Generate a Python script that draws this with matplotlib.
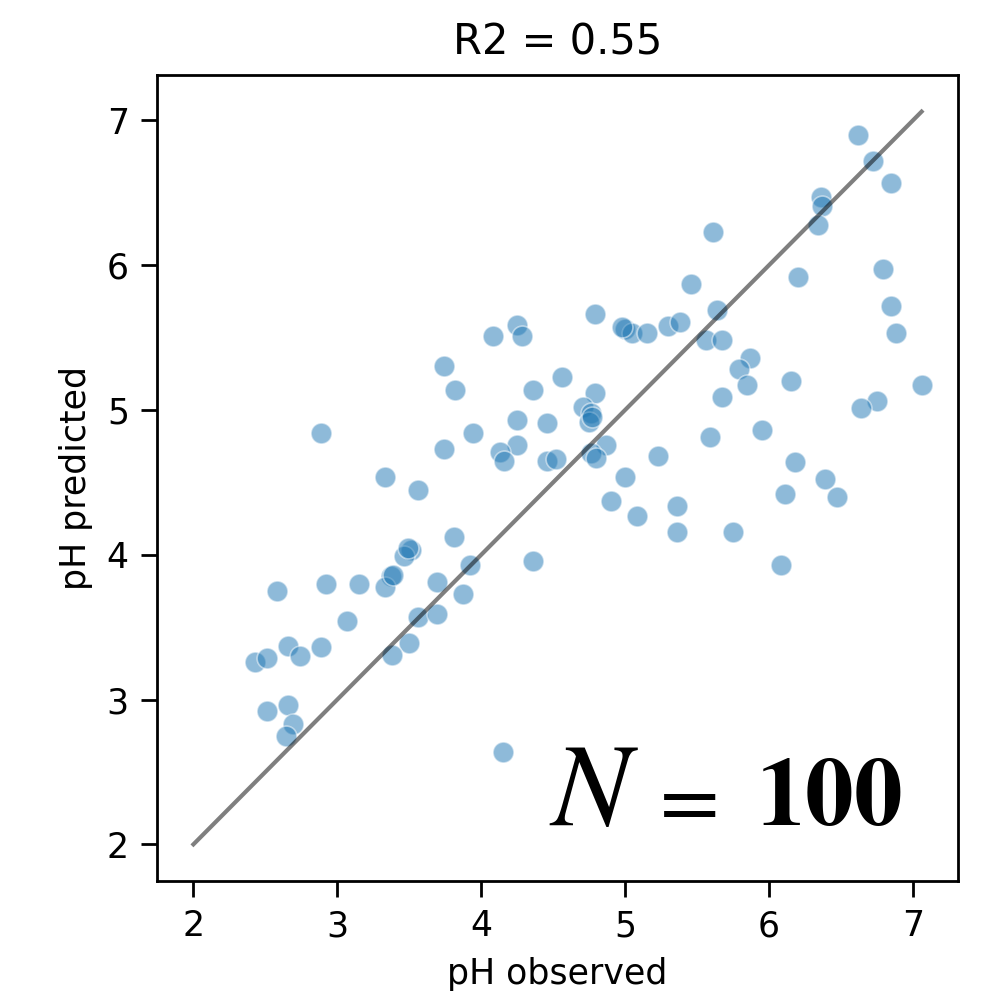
"""
Observed vs predicted pH scatter with 1:1 line
"""

import matplotlib
matplotlib.use("Agg")
import matplotlib.pyplot as plt

# values
ph_observed = [
    3.33, 3.56, 3.81, 3.51, 3.46, 4.36, 3.92, 2.58, 2.92, 3.15,
    3.37, 3.33, 3.69, 3.87, 3.07, 3.56, 3.69, 3.50, 3.38, 2.66,
    2.74, 2.89, 2.43, 2.51, 2.51, 2.66, 2.69, 2.64, 4.15, 4.25,
    4.28, 4.08, 3.74, 3.82, 4.36, 4.56, 4.25, 4.46, 2.89, 3.94,
    3.74, 4.25, 4.13, 4.16, 4.46, 4.52, 6.62, 6.72, 6.85, 6.36,
    6.37, 6.34, 5.61, 6.20, 6.79, 5.46, 6.85, 6.88, 5.64, 4.79,
    5.00, 5.05, 5.15, 5.30, 5.38, 5.56, 5.67, 5.87, 5.79, 5.85,
    6.15, 7.06, 6.75, 6.64, 5.67, 4.79, 4.71, 4.76, 4.75, 4.87,
    4.76, 4.80, 5.23, 5.59, 5.95, 6.18, 5.00, 4.90, 5.08, 5.36,
    5.36, 5.75, 6.11, 6.39, 6.47, 6.08, 4.98, 4.77, 3.39, 3.49,
]

ph_predicted = [
    4.54, 4.45, 4.12, 4.03, 3.99, 3.96, 3.93, 3.75, 3.80, 3.80,
    3.85, 3.78, 3.81, 3.73, 3.54, 3.57, 3.59, 3.39, 3.31, 3.37,
    3.30, 3.36, 3.26, 3.29, 2.92, 2.96, 2.83, 2.75, 2.64, 5.59,
    5.51, 5.51, 5.30, 5.14, 5.14, 5.23, 4.93, 4.91, 4.84, 4.84,
    4.73, 4.76, 4.71, 4.65, 4.65, 4.66, 6.90, 6.72, 6.57, 6.47,
    6.41, 6.28, 6.23, 5.92, 5.97, 5.87, 5.72, 5.53, 5.69, 5.66,
    5.56, 5.53, 5.53, 5.58, 5.61, 5.48, 5.48, 5.36, 5.28, 5.17,
    5.20, 5.17, 5.06, 5.01, 5.09, 5.12, 5.02, 4.98, 4.92, 4.76,
    4.70, 4.67, 4.68, 4.81, 4.86, 4.64, 4.54, 4.37, 4.27, 4.34,
    4.16, 4.16, 4.42, 4.52, 4.40, 3.93, 5.57, 4.95, 3.86, 4.05,
]

r2_value = 0.55
n_samples = 100

line_lo = 2.0
line_hi = max(ph_observed)

fig = plt.figure(figsize=(984 / 250, 995 / 250), dpi=250)
ax = fig.add_axes([157 / 984, 1 - 881 / 995, 801 / 984, 806 / 995])

ax.scatter(ph_observed, ph_predicted, s=36, color="tab:blue", alpha=0.5,
           edgecolor="white", linewidth=0.48, zorder=2)
ax.plot([line_lo, line_hi], [line_lo, line_hi], color="black", alpha=0.5,
        linewidth=1.2, zorder=3)

ax.set_title(f"R2 = {r2_value}", fontsize=12)
ax.set_xlabel("pH observed", fontsize=10)
ax.set_ylabel("pH predicted", fontsize=10)
ax.tick_params(axis="both", labelsize=10, length=4.6, width=0.8)

# big sample-size annotation: italic N, thin "=", bold number
ax.text(0.49, 0.069, r"$N$", transform=ax.transAxes,
        ha="left", va="baseline", fontsize=34, math_fontfamily="stix")
ax.text(0.655, 0.069, r"$=$", transform=ax.transAxes,
        ha="center", va="baseline", fontsize=25, math_fontfamily="stix")
ax.text(0.93, 0.069, rf"$\mathbf{{{n_samples}}}$", transform=ax.transAxes,
        ha="right", va="baseline", fontsize=28, math_fontfamily="stix")

plt.savefig("out.png", dpi=250)
plt.close()
